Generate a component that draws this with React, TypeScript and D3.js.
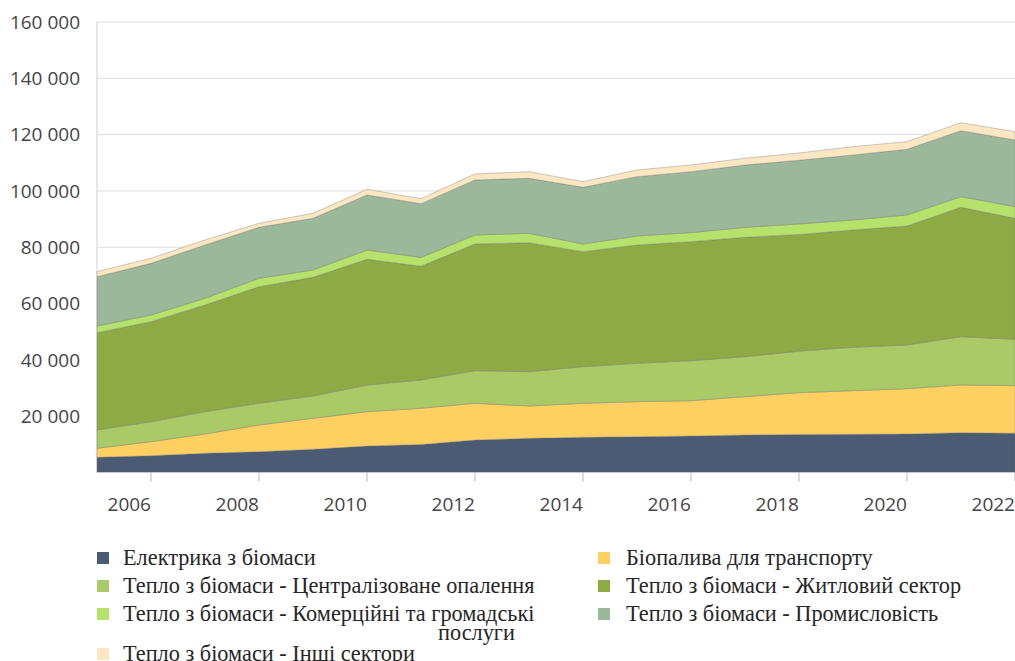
import React from "react";
import * as d3 from "d3";

const years = [2005, 2006, 2007, 2008, 2009, 2010, 2011, 2012, 2013, 2014, 2015, 2016, 2017, 2018, 2019, 2020, 2021, 2022];

const electricity = [5400, 5970, 6820, 7390, 8240, 9410, 9950, 11540, 12150, 12500, 12720, 12960, 13320, 13500, 13570, 13670, 14140, 13920];
const biofuels = [3200, 4970, 6860, 9480, 11010, 12180, 12860, 13040, 11470, 12080, 12430, 12540, 13600, 14850, 15490, 16090, 16940, 16910];
const districtHeat = [6500, 7100, 7920, 7710, 7920, 9480, 10050, 11580, 12180, 13000, 13640, 14210, 14210, 14740, 15420, 15520, 17160, 16480];
const residential = [34560, 35520, 37900, 41420, 42160, 44650, 40390, 45000, 45820, 40850, 42020, 42270, 42410, 41450, 41660, 42270, 45960, 42980];
const commercial = [2380, 2380, 2380, 2980, 2590, 3300, 3130, 3200, 3340, 2730, 3200, 3200, 3550, 3730, 3550, 3910, 3770, 4120];
const industry = [17510, 18360, 18930, 18120, 18360, 19540, 19110, 19540, 19540, 20140, 21060, 21670, 22130, 22630, 23090, 23340, 23440, 23690];
const otherSectors = [1780, 1780, 1780, 1420, 1780, 2020, 1740, 2130, 2340, 1990, 2380, 2380, 2380, 2590, 2950, 2700, 2840, 2950];

const yTicks = [20000, 40000, 60000, 80000, 100000, 120000, 140000, 160000];
const xTicks = [2006, 2008, 2010, 2012, 2014, 2016, 2018, 2020, 2022];

const seriesKeys = ["electricity", "biofuels", "districtHeat", "residential", "commercial", "industry", "otherSectors"];
const seriesValues = [electricity, biofuels, districtHeat, residential, commercial, industry, otherSectors];
const seriesNames = [
  "Електрика з біомаси",
  "Біопалива для транспорту",
  "Тепло з біомаси - Централізоване опалення",
  "Тепло з біомаси - Житловий сектор",
  "Тепло з біомаси - Комерційні та громадські",
  "Тепло з біомаси - Промисловість",
  "Тепло з біомаси - Інші сектори",
];
const seriesColors = ["#4b5b74", "#fed061", "#a9ca67", "#8eaa45", "#b6e26b", "#9bb89b", "#fbe8c2"];

const W = 1015;
const H = 661;

export default function App() {
  const x = d3.scaleLinear().domain([2005, 2022]).range([97, 1015]);
  const y = d3.scaleLinear().domain([0, 160000]).range([472.5, 22]);

  const table = years.map((yr, i) => {
    const row: Record<string, number> = { year: yr };
    seriesKeys.forEach((k, j) => (row[k] = seriesValues[j][i]));
    return row;
  });
  const stacked = d3.stack<Record<string, number>>().keys(seriesKeys)(table);
  const area = d3
    .area<any>()
    .x((d) => x(d.data.year))
    .y0((d) => y(d[0]))
    .y1((d) => y(d[1]));

  const fmt = d3.formatLocale({ decimal: ",", thousands: " ", grouping: [3], currency: ["", ""] }).format(",d");

  const axisFont = "'Open Sans', 'Noto Sans', sans-serif";
  const legendFont = "'Liberation Serif', 'Times New Roman', serif";

  const legendItems = [
    { i: 0, sx: 97, tx: 123, by: 565 },
    { i: 2, sx: 97, tx: 123, by: 593 },
    { i: 4, sx: 97, tx: 123, by: 621 },
    { i: 6, sx: 97, tx: 123, by: 661 },
    { i: 1, sx: 598, tx: 626, by: 565 },
    { i: 3, sx: 598, tx: 626, by: 593 },
    { i: 5, sx: 598, tx: 626, by: 621 },
  ];

  return (
    <svg
      width={W}
      height={H}
      style={{ position: "absolute", left: 0, top: 0, display: "block", background: "#fff" }}
    >
      {yTicks.map((t) => (
        <line key={"g" + t} x1={97} x2={W} y1={y(t)} y2={y(t)} stroke="#dcdcdc" strokeWidth={1} />
      ))}
      <line x1={97} x2={97} y1={y(160000)} y2={y(0)} stroke="#d0d0d0" strokeWidth={1} />
      {stacked.map((s, j) => (
        <path
          key={seriesKeys[j]}
          d={area(s as any) || ""}
          fill={seriesColors[j]}
          stroke="rgba(110,110,110,0.45)"
          strokeWidth={0.8}
        />
      ))}
      <line x1={97} x2={W} y1={y(0)} y2={y(0)} stroke="#c8c8c8" strokeWidth={1} />
      {xTicks.map((t) => (
        <g key={"x" + t}>
          <line x1={x(t)} x2={x(t)} y1={y(0)} y2={y(0) + 9} stroke="#b8b8b8" strokeWidth={1} />
          <text x={x(t)} y={511} textAnchor="end" fontFamily={axisFont} fontSize={19} fill="#454545">
            {t}
          </text>
        </g>
      ))}
      {yTicks.map((t) => (
        <text
          key={"y" + t}
          x={80}
          y={y(t)}
          dy="0.36em"
          textAnchor="end"
          fontFamily={axisFont}
          fontSize={19}
          fill="#454545"
        >
          {fmt(t)}
        </text>
      ))}
      {legendItems.map((it) => (
        <g key={"l" + it.i}>
          <rect x={it.sx} y={it.by - 13} width={12} height={12} fill={seriesColors[it.i]} />
          <text x={it.tx} y={it.by} fontFamily={legendFont} fontSize={22.3} fill="#262626">
            {seriesNames[it.i]}
          </text>
        </g>
      ))}
      <text x={438} y={640} fontFamily={legendFont} fontSize={22.3} fill="#262626">
        послуги
      </text>
    </svg>
  );
}
